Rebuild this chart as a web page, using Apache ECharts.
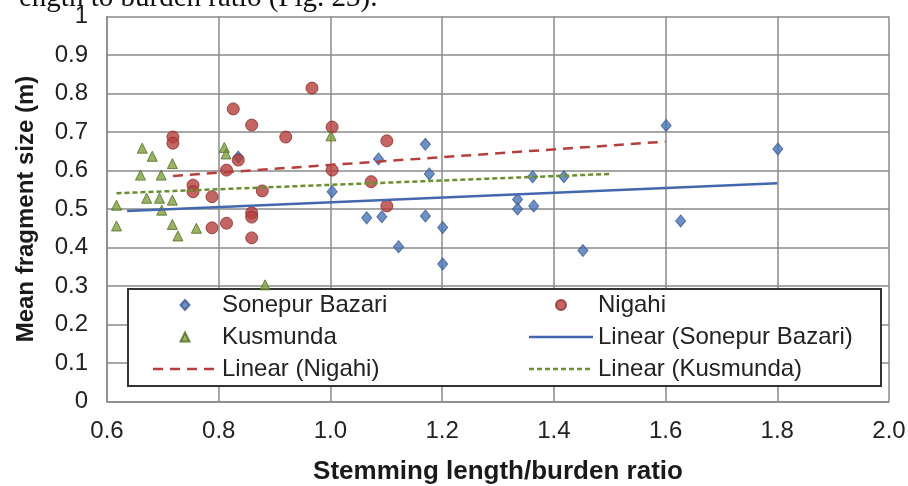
<!DOCTYPE html>
<html><head><meta charset="utf-8">
<script src="https://cdn.jsdelivr.net/npm/echarts@6/dist/echarts.min.js"></script>
<style>html,body{margin:0;padding:0;background:#fff}#c{width:908px;height:486px}</style>
</head><body><div id="c"></div>
<script>
// ---- data ----
const seriesNames = ['Sonepur Bazari', 'Nigahi', 'Kusmunda',
  'Linear (Sonepur Bazari)', 'Linear (Nigahi)', 'Linear (Kusmunda)'];

const sonepurX = [0.835, 1.003, 1.065, 1.086, 1.092, 1.122, 1.170, 1.170, 1.177, 1.201,
  1.201, 1.335, 1.335, 1.362, 1.364, 1.418, 1.452, 1.601, 1.627, 1.801];
const sonepurY = [0.635, 0.545, 0.477, 0.630, 0.480, 0.402, 0.668, 0.482, 0.591, 0.452,
  0.357, 0.525, 0.500, 0.584, 0.508, 0.584, 0.392, 0.717, 0.469, 0.656];

const nigahiX = [0.718, 0.718, 0.754, 0.754, 0.788, 0.788, 0.814, 0.814, 0.826, 0.835,
  0.859, 0.859, 0.859, 0.859, 0.878, 0.920, 0.967, 1.003, 1.003, 1.073, 1.101, 1.101];
const nigahiY = [0.687, 0.671, 0.562, 0.545, 0.532, 0.451, 0.601, 0.463, 0.760, 0.627,
  0.718, 0.490, 0.479, 0.425, 0.547, 0.687, 0.814, 0.713, 0.601, 0.571, 0.677, 0.508];

const kusmundaX = [0.617, 0.617, 0.663, 0.681, 0.660, 0.697, 0.717, 0.671, 0.694, 0.717,
  0.698, 0.717, 0.727, 0.760, 0.810, 0.813, 0.883, 1.001];
const kusmundaY = [0.510, 0.456, 0.658, 0.637, 0.588, 0.588, 0.618, 0.528, 0.528, 0.523,
  0.497, 0.460, 0.430, 0.450, 0.660, 0.643, 0.303, 0.690];

const sonepurTrendX = [0.636, 1.800];
const sonepurTrendY = [0.495, 0.567];
const nigahiTrendX = [0.718, 1.600];
const nigahiTrendY = [0.586, 0.675];
const kusmundaTrendX = [0.617, 1.500];
const kusmundaTrendY = [0.541, 0.591];

const xTickMin = 0.6, xTickMax = 2.0, xTickStep = 0.2;
const yTickMin = 0, yTickMax = 1, yTickStep = 0.1;

const xTitle = 'Stemming length/burden ratio';
const yTitle = 'Mean fragment size (m)';
const topText = 'ength to burden ratio (Fig. 23).';

// ---- build ----
const zip = (xs, ys) => xs.map((x, i) => [x, ys[i]]);
const FONT = '"Liberation Sans", Arial, sans-serif';
const gridColor = '#8a8a8a';
const blue = '#4A74B5', red = '#B53F3C', green = '#7FA03E';
const blueLine = '#4468AE', redLine = '#B53F3C', greenLine = '#6a8f33';

// legend icons drawn in a wide 64 x 10 box (bounds set by the two leading moveTo points)
const BOX = 'path://M0,0M64,10';
const iconDiamond = BOX + 'M32,0L36.5,5L32,10L27.5,5Z';
const iconCircle = BOX + 'M37,5A5,5,0,1,1,27,5A5,5,0,1,1,37,5Z';
const iconTriangle = BOX + 'M32,0.5L36.5,9.5L27.5,9.5Z';
function dashIcon(dash, gap) {
  let p = BOX;
  for (let x = 0; x < 64; x += dash + gap) {
    const e = Math.min(64, x + dash);
    p += 'M' + x + ',3.75L' + e + ',3.75L' + e + ',6.25L' + x + ',6.25Z';
  }
  return p;
}
const iconSolid = dashIcon(64, 0);
const iconDashed = dashIcon(10, 7);
const iconDotted = dashIcon(5, 3);

const legendText = {fontFamily: FONT, fontSize: 24, color: '#222', lineHeight: 28};

const chart = echarts.init(document.getElementById('c'), null, {renderer: 'canvas'});
chart.setOption({
  animation: false,
  backgroundColor: '#fff',
  grid: {left: 107, right: 19, top: 16.5, bottom: 84.5, containLabel: false, outerBoundsMode: 'none'},
  xAxis: {
    type: 'value', min: xTickMin, max: xTickMax, interval: xTickStep,
    name: xTitle, nameLocation: 'middle', nameGap: 57,
    nameTextStyle: {fontFamily: FONT, fontWeight: 'bold', fontSize: 26, color: '#1a1a1a'},
    axisLine: {show: true, lineStyle: {color: gridColor, width: 1.5}},
    axisTick: {show: false},
    axisLabel: {fontFamily: FONT, fontSize: 24, color: '#222', margin: 18,
      formatter: v => v.toFixed(1)},
    splitLine: {show: true, lineStyle: {color: gridColor, width: 1.5}}
  },
  yAxis: {
    type: 'value', min: yTickMin, max: yTickMax, interval: yTickStep,
    name: yTitle, nameLocation: 'middle', nameGap: 69,
    nameTextStyle: {fontFamily: FONT, fontWeight: 'bold', fontSize: 24, color: '#1a1a1a'},
    axisLine: {show: true, lineStyle: {color: gridColor, width: 1.5}},
    axisTick: {show: false},
    axisLabel: {fontFamily: FONT, fontSize: 24, color: '#222', margin: 19,
      formatter: v => String(Math.round(v * 10) / 10)},
    splitLine: {show: true, lineStyle: {color: gridColor, width: 1.5}}
  },
  legend: [
    {
      data: [
        {name: seriesNames[0], icon: iconDiamond},
        {name: seriesNames[2], icon: iconTriangle},
        {name: seriesNames[4], icon: iconDashed, itemStyle: {color: redLine, borderWidth: 0}}
      ],
      orient: 'vertical', left: 152, top: 291, padding: 0, itemGap: 4,
      itemWidth: 64, itemHeight: 10, z: 5, textStyle: legendText
    },
    {
      data: [
        {name: seriesNames[1], icon: iconCircle},
        {name: seriesNames[3], icon: iconSolid, itemStyle: {color: blueLine, borderWidth: 0}},
        {name: seriesNames[5], icon: iconDotted, itemStyle: {color: greenLine, borderWidth: 0}}
      ],
      orient: 'vertical', left: 528, top: 291, padding: 0, itemGap: 4,
      itemWidth: 64, itemHeight: 10, z: 5, textStyle: legendText
    }
  ],
  graphic: [
    {type: 'rect', z: 1, shape: {x: 128, y: 289, width: 753, height: 97},
      style: {fill: '#fff', stroke: '#333', lineWidth: 2}},
    {type: 'text', z: 1, x: 19, y: -2,
      style: {text: topText, font: '29px "Liberation Serif", "Times New Roman", serif',
        fill: '#111', align: 'left', verticalAlign: 'middle'}}
  ],
  series: [
    {name: seriesNames[0], type: 'scatter', z: 3, symbol: 'diamond', symbolSize: [10, 12],
      itemStyle: {color: blue, borderColor: '#375a92', borderWidth: 1},
      data: zip(sonepurX, sonepurY)},
    {name: seriesNames[1], type: 'scatter', z: 3, symbol: 'circle', symbolSize: 12,
      itemStyle: {color: red, borderColor: '#862d2b', borderWidth: 1},
      data: zip(nigahiX, nigahiY)},
    {name: seriesNames[2], type: 'scatter', z: 3, symbol: 'triangle', symbolSize: 10,
      itemStyle: {color: green, borderColor: '#4f6b22', borderWidth: 1},
      data: zip(kusmundaX, kusmundaY)},
    {name: seriesNames[3], type: 'line', z: 4, symbol: 'none', showSymbol: false, color: blueLine,
      itemStyle: {color: blueLine},
      lineStyle: {color: blueLine, width: 2.5, type: 'solid'},
      data: zip(sonepurTrendX, sonepurTrendY)},
    {name: seriesNames[4], type: 'line', z: 4, symbol: 'none', showSymbol: false, color: redLine,
      itemStyle: {color: redLine},
      lineStyle: {color: redLine, width: 2.5, type: [10, 7]},
      data: zip(nigahiTrendX, nigahiTrendY)},
    {name: seriesNames[5], type: 'line', z: 4, symbol: 'none', showSymbol: false, color: greenLine,
      itemStyle: {color: greenLine},
      lineStyle: {color: greenLine, width: 2.5, type: [5, 3]},
      data: zip(kusmundaTrendX, kusmundaTrendY)}
  ]
});
</script></body></html>
